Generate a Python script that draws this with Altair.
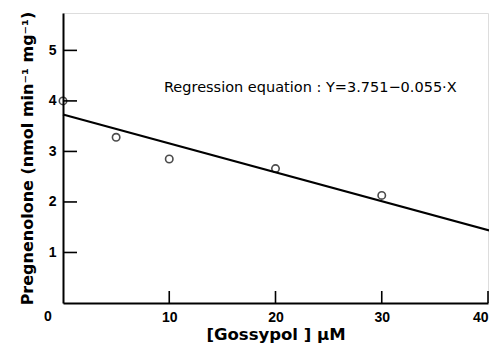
import altair as alt
import pandas as pd

# data
gossypol = [0, 5, 10, 20, 30]
pregnenolone = [4.0, 3.28, 2.85, 2.66, 2.13]
line_x = [0, 40.4]
line_y = [3.73, 1.42]
x_ticks = [10, 20, 30, 40]
y_ticks = [1, 2, 3, 4, 5]
equation = "Regression   equation : Y=3.751−0.055·X"

pts = pd.DataFrame({"x": gossypol, "y": pregnenolone})
ln = pd.DataFrame({"x": line_x, "y": line_y})
xt = pd.DataFrame({"x": x_ticks})
yt = pd.DataFrame({"y": y_ticks})

W, H = 425, 290
FONT = "Liberation Sans"
TFONT = "DejaVu Sans"

xs = alt.Scale(domain=[0, 40], nice=False, zero=False)
ys = alt.Scale(domain=[0, 5.74], nice=False, zero=False)

base_axis = dict(
    domainColor="black", domainWidth=2, ticks=False, grid=False,
    labelFont=FONT, labelFontSize=14, labelFontWeight="bold", labelColor="black",
    titleFont=TFONT, titleFontWeight="bold", titleColor="black",
)

points = alt.Chart(pts).mark_point(
    shape="circle", filled=False, color="black", strokeWidth=1.6, size=55, clip=False
).encode(
    x=alt.X("x:Q", scale=xs, axis=alt.Axis(values=x_ticks, format="d", labelPadding=7,
            title="[Gossypol ] μM", titleFontSize=16.5, titleBaseline="alphabetic",
            titleY=36, **base_axis)),
    y=alt.Y("y:Q", scale=ys, axis=alt.Axis(values=y_ticks, format="d", labelPadding=7,
            title="Pregnenolone (nmol min⁻¹ mg⁻¹)", titleFontSize=16, titlePadding=13, **base_axis)),
)

line = alt.Chart(ln).mark_line(color="black", strokeWidth=2.2, clip=False).encode(
    x=alt.X("x:Q", scale=xs), y=alt.Y("y:Q", scale=ys)
)

xtick = alt.Chart(xt).mark_rule(color="black", strokeWidth=1.6).encode(
    x=alt.X("x:Q", scale=xs), y=alt.value(H), y2=alt.value(H - 12)
)
ytick = alt.Chart(yt).mark_rule(color="black", strokeWidth=1.6).encode(
    y=alt.Y("y:Q", scale=ys), x=alt.value(0), x2=alt.value(14)
)

zero = alt.Chart(pd.DataFrame({"x": [0], "y": [0], "t": ["0"]})).mark_text(
    font=FONT, fontSize=14, fontWeight="bold", color="black", dx=-15, dy=14
).encode(x=alt.X("x:Q", scale=xs), y=alt.Y("y:Q", scale=ys), text="t:N")

eq = alt.Chart(pd.DataFrame({"x": [9.5], "y": [4.25], "t": [equation]})).mark_text(
    font=TFONT, fontSize=14.5, color="black", align="left"
).encode(x=alt.X("x:Q", scale=xs), y=alt.Y("y:Q", scale=ys), text="t:N")

chart = alt.layer(points, line, xtick, ytick, zero, eq).properties(
    width=W, height=H,
    autosize=alt.AutoSizeParams(type="none"),
    padding={"left": 55, "top": 5, "right": 1, "bottom": 40},
).configure_view(stroke=None).configure(background="white")

chart.save("out.html", embed_options={"renderer": "svg", "actions": False})
